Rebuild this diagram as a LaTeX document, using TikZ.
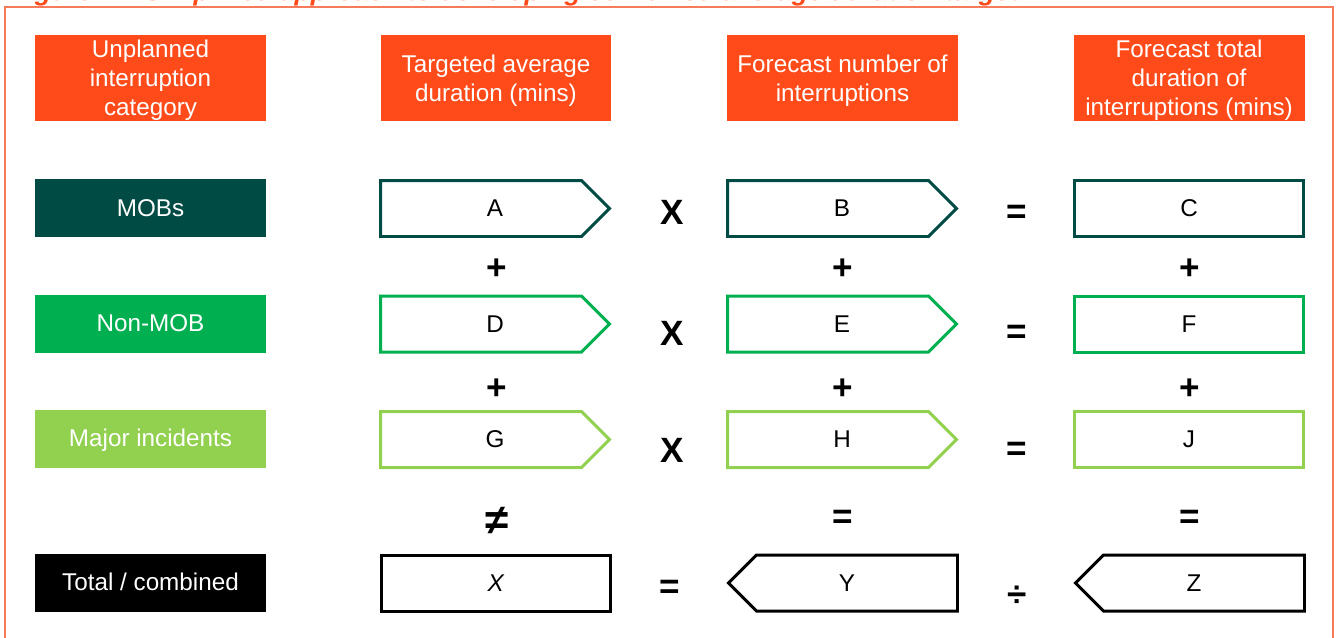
\documentclass[tikz,border=0pt]{standalone}
\usepackage{fontspec}
\setmainfont{Liberation Sans}
\usetikzlibrary{shapes.symbols,positioning}

\definecolor{hdrorange}{HTML}{FF4B19}
\definecolor{framered}{HTML}{F57B5A}
\definecolor{mobteal}{HTML}{004B44}
\definecolor{nonmobgreen}{HTML}{00B050}
\definecolor{majorgreen}{HTML}{92D050}

\begin{document}
\begin{tikzpicture}[x=0.02cm,y=-0.02cm]
\tikzset{
  textfont/.style={font=\fontsize{13.8}{16.5}\selectfont},
  headbox/.style={textfont,fill=hdrorange,text=white,minimum width=4.62cm,minimum height=1.72cm,inner sep=1pt,align=center,text depth=-0.25em},
  rowbox/.style={textfont,fill=#1,text=white,minimum width=4.62cm,minimum height=1.16cm,inner sep=1pt,text height=0.95em,text depth=0pt},
  valbox/.style={textfont,draw=#1,line width=1.7pt,minimum width=4.58cm,minimum height=1.12cm,inner sep=1pt,text height=0.95em,text depth=0pt},
  fwdbox/.style={valbox=#1,shape=signal,signal to=east,signal from=nowhere,signal pointer angle=90,execute at begin node=\hspace*{0.56cm}},
  backbox/.style={valbox=#1,shape=signal,signal to=west,signal from=nowhere,signal pointer angle=90,execute at end node=\hspace*{0.4cm}},
  opsign/.style={font=\fontsize{20}{24}\selectfont\bfseries,inner sep=0pt}
}
\useasboundingbox (0,0) rectangle (1337,637);
\node[anchor=base west,text=hdrorange,font=\fontsize{15.2}{18}\selectfont\bfseries\itshape] (n_title) at (5,0) {Figure 2 – Simplified approach to developing combined average duration target};
\draw[framered,line width=1.2pt] (5,7) rectangle (1333,700);
\node[headbox] (n_hcat) at (150.5,78) {Unplanned\\interruption\\category};
\node[headbox] (n_hdur) at (496,78) {Targeted average\\duration (mins)};
\node[headbox] (n_hnum) at (842.5,78) {Forecast number of\\interruptions};
\node[headbox] (n_htot) at (1189,78) {Forecast total\\duration of\\interruptions (mins)};
\node[rowbox=mobteal] (n_mob) at (150.5,208) {MOBs};
\node[rowbox=nonmobgreen] (n_nonmob) at (150.5,323.5) {Non-MOB};
\node[rowbox=majorgreen] (n_major) at (150.5,438.5) {Major incidents};
\node[rowbox=black] (n_total) at (150.5,582.5) {Total / combined};
\node[fwdbox=mobteal] (n_A) at (481,208.5) {A};
\node[fwdbox=mobteal] (n_B) at (828,208.5) {B};
\node[valbox=mobteal] (n_C) at (1189,208.5) {C};
\node[fwdbox=nonmobgreen] (n_D) at (481,324) {D};
\node[fwdbox=nonmobgreen] (n_E) at (828,324) {E};
\node[valbox=nonmobgreen] (n_F) at (1189,324) {F};
\node[fwdbox=majorgreen] (n_G) at (481,439.5) {G};
\node[fwdbox=majorgreen] (n_H) at (828,439.5) {H};
\node[valbox=majorgreen] (n_J) at (1189,439.5) {J};
\node[valbox=black] (n_X) at (496,583) {\textit{X}};
\node[backbox=black] (n_Y) at (857,583) {Y};
\node[backbox=black] (n_Z) at (1204,583) {Z};
\node[opsign] (n_t1) at (672,212) {X};
\node[opsign] (n_t2) at (672,333) {X};
\node[opsign] (n_t3) at (672,450) {X};
\node[opsign] (n_e1) at (1017,214) {=};
\node[opsign] (n_e2) at (1017,334) {=};
\node[opsign] (n_e3) at (1017,451) {=};
\node[opsign] (n_p1) at (497,269) {+};
\node[opsign] (n_p2) at (843,269) {+};
\node[opsign] (n_p3) at (1190,269) {+};
\node[opsign] (n_p4) at (497,389) {+};
\node[opsign] (n_p5) at (843,389) {+};
\node[opsign] (n_p6) at (1190,389) {+};
\node[opsign,font=\fontsize{24}{28}\selectfont\bfseries] (n_ne) at (497,521) {≠};
\node[opsign] (n_e4) at (843,519) {=};
\node[opsign] (n_e5) at (1190,519) {=};
\node[opsign] (n_e6) at (670,589) {=};
\node[opsign] (n_div) at (1017,596) {÷};
\end{tikzpicture}
\end{document}
